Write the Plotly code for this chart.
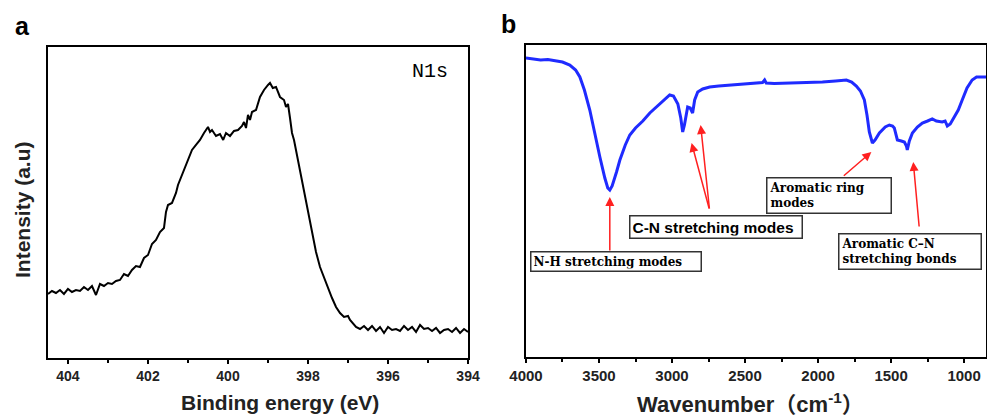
import plotly.graph_objects as go

# ---- panel a: XPS N1s ----
binding_energy = [
    404.5, 404.4, 404.3, 404.2, 404.1, 404.0, 403.9, 403.8, 403.7, 403.6,
    403.5, 403.4, 403.3, 403.2, 403.1, 403.0, 402.9, 402.8, 402.7, 402.6,
    402.5, 402.4, 402.3, 402.2, 402.1, 402.0, 401.9, 401.8, 401.7, 401.6,
    401.55, 401.5, 401.4, 401.3, 401.25, 401.2, 401.1, 401.0, 400.9, 400.8,
    400.7, 400.6, 400.5, 400.45, 400.4, 400.3, 400.2, 400.12, 400.05, 399.95,
    399.85, 399.75, 399.65, 399.6, 399.55, 399.5, 399.45, 399.4, 399.3, 399.2,
    399.1, 399.0, 398.95, 398.88, 398.8, 398.7, 398.6, 398.55, 398.5, 398.45,
    398.4, 398.35, 398.3, 398.2, 398.1, 398.0, 397.9, 397.8, 397.7, 397.6,
    397.5, 397.4, 397.3, 397.2, 397.1, 397.0, 396.95, 396.9, 396.8, 396.7,
    396.6, 396.5, 396.4, 396.3, 396.2, 396.1, 396.0, 395.9, 395.8, 395.7,
    395.6, 395.5, 395.4, 395.3, 395.2, 395.1, 395.0, 394.9, 394.8, 394.7,
    394.6, 394.5, 394.4, 394.3, 394.2, 394.1, 394.0,
]
intensity = [
    64, 67, 65, 68, 64, 69, 66, 68, 67, 71,
    68, 72, 63, 74, 72, 75, 74, 77, 78, 84,
    82, 88, 92, 91, 100, 103, 114, 118, 126, 130,
    146, 153, 155, 165, 173, 178, 190, 200, 208, 213,
    218, 225, 231, 226, 228, 222, 224, 218, 225, 222,
    227, 228, 232, 236, 230, 243, 238, 246, 248, 261,
    268, 273, 275, 270, 271, 261, 258, 251, 254, 240,
    225, 218, 208, 188, 168, 146, 126, 106, 91, 80,
    69, 60, 51, 45, 41, 42, 38, 36, 31, 29,
    32, 28, 32, 27, 31, 25, 31, 28, 29, 27,
    32, 28, 31, 26, 33, 29, 30, 27, 30, 25,
    28, 29, 26, 30, 25, 29, 26,
]

# ---- panel b: FTIR ----
wavenumber = [
    4000, 3900, 3850, 3800, 3750, 3700, 3660, 3631, 3600, 3563,
    3530, 3494, 3460, 3440, 3426, 3410, 3380, 3357, 3320, 3289,
    3250, 3200, 3152, 3100, 3050, 3016, 2990, 2960, 2940, 2927,
    2915, 2900, 2893, 2875, 2859, 2845, 2824, 2790, 2742, 2680,
    2606, 2500, 2421, 2380, 2366, 2355, 2300, 2196, 2100, 1970,
    1880, 1806, 1770, 1738, 1710, 1683, 1665, 1649, 1628, 1610,
    1580, 1540, 1512, 1490, 1478, 1465, 1457, 1430, 1409, 1395,
    1389, 1375, 1354, 1320, 1286, 1250, 1218, 1190, 1150, 1130,
    1115, 1095, 1068, 1040, 1013, 980, 945, 915, 897, 850,
]
transmittance = [
    299, 297, 297.5, 296, 295, 292, 287, 280, 267, 247,
    224, 200, 179, 169, 167, 171, 185, 197, 212, 222,
    229, 236, 244, 251, 257, 262, 261, 253, 239, 225,
    232, 248, 250, 249, 244, 257, 265, 268, 270, 271,
    272, 273, 274, 274.5, 277, 274, 273.5, 274, 274, 275,
    276, 277, 275, 271, 266, 257, 242, 225, 214, 217,
    224, 230, 232, 231, 229, 222, 217, 216, 215, 211,
    207, 216, 224, 230, 234, 236, 238, 236, 235, 236,
    231, 233, 240, 247, 257, 269, 277, 280, 280, 280,
]

SANS = "Liberation Sans, Arial, sans-serif"
SERIF = "DejaVu Serif, Times New Roman, serif"

fig = go.Figure()
fig.add_trace(go.Scatter(x=binding_energy, y=intensity, mode="lines",
                         line=dict(color="black", width=2), xaxis="x", yaxis="y"))
fig.add_trace(go.Scatter(x=wavenumber, y=transmittance, mode="lines",
                         line=dict(color="#1f2bff", width=3), xaxis="x2", yaxis="y2"))

axis_common = dict(showline=True, linewidth=2, linecolor="black", mirror=True,
                   showgrid=False, zeroline=False)

fig.update_layout(
    width=987, height=417,
    margin=dict(l=0, r=0, t=0, b=0, autoexpand=False),
    paper_bgcolor="white", plot_bgcolor="white",
    showlegend=False,
    xaxis=dict(domain=[0.0486, 0.4742], range=[404.5, 394], tick0=394, dtick=2,
               ticks="outside", ticklen=4, tickwidth=1.5, tickcolor="black",
               minor=dict(dtick=1, ticks="outside", ticklen=3, tickcolor="black"),
               tickfont=dict(family=SANS, size=14, color="#222", weight="bold"),
               anchor="y", **axis_common),
    yaxis=dict(domain=[0.1415, 0.8873], range=[0, 311], showticklabels=False,
               ticks="", anchor="x", **axis_common),
    xaxis2=dict(domain=[0.5329, 0.999], range=[4000, 850], tick0=1000, dtick=500,
                ticks="outside", ticklen=4, tickwidth=1.5, tickcolor="black",
                minor=dict(dtick=250, ticks="outside", ticklen=3, tickcolor="black"),
                tickfont=dict(family=SANS, size=15, color="#222", weight="bold"),
                anchor="y2", **axis_common),
    yaxis2=dict(domain=[0.1439, 0.8921], range=[0, 312], showticklabels=False,
                ticks="", anchor="x2", **axis_common),
)

title_font = dict(family=SANS, size=21, color="#222", weight="bold")
ann = [
    dict(text="a", x=0.0223, y=0.9376, font=dict(family=SANS, size=25, color="black", weight="bold")),
    dict(text="b", x=0.5157, y=0.9424, font=dict(family=SANS, size=25, color="black", weight="bold")),
    dict(text="Intensity (a.u)", x=0.0223, y=0.4964, textangle=-90, font=title_font),
    dict(text="Binding energy (eV)", x=0.2837, y=0.0336, font=title_font),
    dict(text="Wavenumber\uff08cm<sup>-1</sup>\uff09", x=0.7599, y=0.0336,
         font=dict(family=SANS + ", Noto Sans CJK SC", size=22, color="#222", weight="bold")),
]
for a in ann:
    fig.add_annotation(xref="paper", yref="paper", showarrow=False,
                       xanchor="center", yanchor="middle", **a)

fig.add_annotation(xref="x", yref="y", x=394.95, y=286, text="N1s", showarrow=False,
                   font=dict(family="Liberation Mono, serif", size=20, color="black"))

# label boxes
box_style = dict(xref="x2", yref="y2", showarrow=False, bgcolor="white",
                 bordercolor="#333", borderwidth=1.5, borderpad=2, align="left")
fig.add_annotation(x=3385, y=95, text="<b>N-H stretching modes</b>", width=165,
                   font=dict(family=SERIF, size=12, color="black"), **box_style)
fig.add_annotation(x=2702, y=130, text="<b>C-N stretching modes</b>", width=167,
                   font=dict(family=SANS, size=15.5, color="black"), **box_style)
fig.add_annotation(x=1922, y=161, text="<b>Aromatic ring<br>modes</b>", width=119,
                   font=dict(family=SERIF, size=12, color="black"), **box_style)
fig.add_annotation(x=1369, y=105, text="<b>Aromatic C\u2013N<br>stretching bonds</b>", width=137,
                   font=dict(family=SERIF, size=12, color="black"), **box_style)

# red arrows: (head_x, head_y, tail_x, tail_y)
arrows = [
    (3426, 160, 3426, 105),
    (2866, 214, 2743, 147),
    (2804, 232, 2743, 147),
    (1635, 205, 1834, 180),
    (1348, 195, 1307, 129),
]
for hx, hy, tx, ty in arrows:
    fig.add_annotation(xref="x2", yref="y2", axref="x2", ayref="y2",
                       x=hx, y=hy, ax=tx, ay=ty, text="", showarrow=True,
                       arrowhead=2, arrowsize=1.2, arrowwidth=1.5, arrowcolor="#ff2020")

# drop the default page margin so the figure sits at the window's top-left corner
fig.write_html("out.html", config={"displayModeBar": False},
               post_script="document.body.style.margin='0';document.body.style.overflow='hidden';")
